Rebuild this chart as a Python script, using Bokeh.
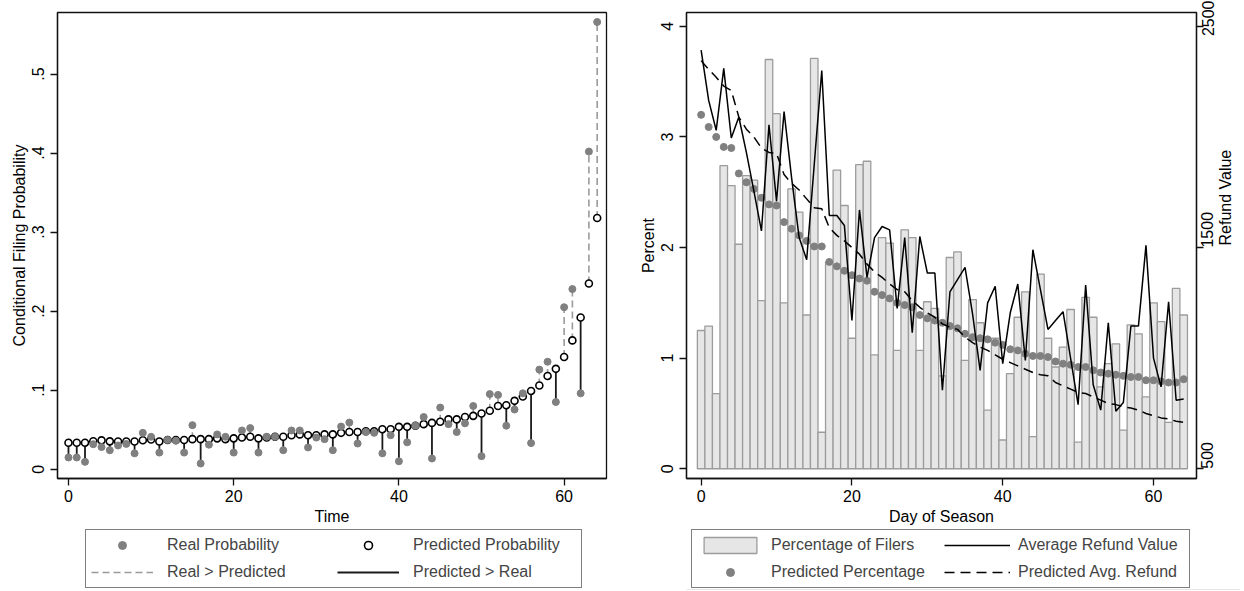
import math
from bokeh.plotting import figure
from bokeh.models import (ColumnDataSource, Range1d, LinearAxis, FixedTicker,
                          Legend, LegendItem)
from bokeh.layouts import row, column
from bokeh.embed import file_html
from bokeh.resources import INLINE

# ---------------- data: left panel ----------------
time = list(range(65))
real_prob = [0.0148, 0.0148, 0.0093, 0.0316, 0.028, 0.024, 0.030, 0.032, 0.020, 0.046,
             0.041, 0.021, 0.037, 0.036, 0.021, 0.0557, 0.0072, 0.031, 0.044, 0.041,
             0.021, 0.049, 0.052, 0.021, 0.041, 0.041, 0.024, 0.049, 0.049, 0.0275,
             0.040, 0.038, 0.024, 0.054, 0.059, 0.0325, 0.047, 0.046, 0.020, 0.043,
             0.010, 0.034, 0.055, 0.066, 0.0135, 0.078, 0.057, 0.047, 0.058, 0.080,
             0.0165, 0.095, 0.094, 0.055, 0.0755, 0.096, 0.033, 0.126, 0.136, 0.085,
             0.205, 0.228, 0.096, 0.402, 0.566]
pred_prob = [0.0334, 0.0335, 0.0335, 0.0354, 0.0365, 0.0352, 0.035, 0.035, 0.035, 0.0367,
             0.0375, 0.035, 0.037, 0.037, 0.037, 0.038, 0.038, 0.038, 0.039, 0.038,
             0.039, 0.040, 0.041, 0.039, 0.040, 0.041, 0.041, 0.043, 0.044, 0.043,
             0.043, 0.044, 0.044, 0.046, 0.047, 0.047, 0.048, 0.048, 0.0506, 0.0506,
             0.0536, 0.0536, 0.055, 0.057, 0.0586, 0.060, 0.063, 0.063, 0.066, 0.0675,
             0.0705, 0.074, 0.080, 0.081, 0.0865, 0.092, 0.099, 0.106, 0.118, 0.127,
             0.142, 0.163, 0.192, 0.235, 0.318]
prob_ticks = [0, 0.1, 0.2, 0.3, 0.4, 0.5]
prob_tick_labels = ["0", ".1", ".2", ".3", ".4", ".5"]
time_ticks = [0, 20, 40, 60]

# ---------------- data: right panel ----------------
day = list(range(65))
pct_filers = [1.25, 1.29, 0.68, 2.74, 2.56, 2.03, 2.65, 2.61, 1.52, 3.70,
              3.21, 1.50, 2.53, 2.32, 1.39, 3.71, 0.33, 1.87, 2.70, 2.38,
              1.18, 2.75, 2.78, 1.03, 2.09, 2.04, 1.07, 2.16, 2.09, 1.07,
              1.51, 1.45, 0.84, 1.91, 1.96, 0.98, 1.53, 1.32, 0.53, 1.18,
              0.26, 0.86, 1.37, 1.60, 0.29, 1.76, 1.18, 0.92, 1.10, 1.44,
              0.24, 1.55, 1.37, 0.74, 0.95, 1.13, 0.35, 1.30, 1.22, 0.65,
              1.50, 1.33, 0.42, 1.63, 1.39]
pred_pct = [3.20, 3.09, 3.00, 2.91, 2.90, 2.67, 2.59, 2.53, 2.45, 2.39,
            2.38, 2.23, 2.17, 2.11, 2.06, 2.01, 2.01, 1.87, 1.83, 1.79,
            1.75, 1.72, 1.70, 1.60, 1.57, 1.54, 1.50, 1.48, 1.46, 1.39,
            1.36, 1.34, 1.32, 1.29, 1.27, 1.22, 1.19, 1.18, 1.17, 1.14,
            1.12, 1.08, 1.07, 1.04, 1.02, 1.02, 1.01, 0.97, 0.95, 0.94,
            0.92, 0.92, 0.89, 0.87, 0.86, 0.85, 0.84, 0.83, 0.83, 0.80,
            0.80, 0.79, 0.78, 0.78, 0.81]
avg_refund = [2392, 2165, 2030, 2310, 1995, 2090, 1930, 1755, 1575, 2055,
              1710, 2115, 1815, 1545, 1445, 1875, 2300, 1645, 1645, 1600,
              1170, 1670, 1365, 1545, 1595, 1580, 1225, 1545, 1115, 1550,
              1385, 1385, 855, 1300, 1355, 1410, 1200, 945, 1250, 1325,
              975, 1205, 1335, 990, 1490, 1310, 1130, 1170, 1210, 1000,
              790, 1330, 880, 765, 1160, 760, 800, 1145, 1145, 1510,
              1000, 870, 1255, 810, 815]
pred_refund = [2345, 2305, 2270, 2230, 2210, 2090, 2035, 2000, 1950, 1930,
               1925, 1830, 1790, 1760, 1720, 1680, 1675, 1590, 1555, 1530,
               1500, 1470, 1425, 1390, 1365, 1335, 1310, 1300, 1260, 1230,
               1205, 1185, 1155, 1140, 1130, 1095, 1070, 1050, 1035, 1015,
               995, 980, 965, 950, 935, 925, 920, 890, 875, 860,
               845, 840, 825, 810, 795, 790, 780, 775, 765, 750,
               740, 730, 725, 715, 710]
pct_ticks = [0, 1, 2, 3, 4]
refund_ticks = [500, 1500, 2500]
day_ticks = [0, 20, 40, 60]

FONT = "Liberation Sans"
FS = "16px"
DOT = "#808080"

# styles shared by plot and legend proxies
UP_STYLE = dict(line_color="#9a9a9a", line_width=1.6, line_dash="7 4")
DN_STYLE = dict(line_color="#1a1a1a", line_width=1.8)
PRED_STYLE = dict(size=7, marker="circle", fill_color="white", line_color="black", line_width=1.6)
REAL_STYLE = dict(size=7, marker="circle", fill_color=DOT, line_color=DOT)
BAR_STYLE = dict(width=1.0, fill_color="#e6e6e6", line_color="#9c9c9c", line_width=1.3)
PP_STYLE = dict(size=7, marker="circle", fill_color=DOT, line_color=DOT)
REF_STYLE = dict(line_color="black", line_width=1.5)
PREF_STYLE = dict(line_color="black", line_width=1.5, line_dash="10 6")


def style_axes(p):
    p.outline_line_color = "#111111"
    p.outline_line_width = 1.3
    p.grid.visible = False
    p.background_fill_color = "white"
    p.border_fill_color = "white"
    for ax in p.axis:
        ax.axis_line_color = "#111111"
        ax.axis_line_width = 1.3
        ax.major_tick_line_color = "#111111"
        ax.major_tick_line_width = 1.3
        ax.major_tick_in = 0
        ax.major_tick_out = 7
        ax.minor_tick_line_color = None
        ax.major_label_text_font = FONT
        ax.major_label_text_font_size = FS
        ax.major_label_text_color = "black"
        ax.axis_label_text_font = FONT
        ax.axis_label_text_font_size = FS
        ax.axis_label_text_font_style = "normal"
        ax.axis_label_text_color = "black"
        ax.major_label_standoff = 4
        ax.axis_label_standoff = 3


def legend_figure(w):
    lf = figure(frame_width=w, frame_height=62, x_range=Range1d(0, 1),
                y_range=Range1d(100000, 100001), output_backend="svg",
                toolbar_location=None, x_axis_location=None, y_axis_location=None,
                min_border=0)
    lf.outline_line_color = None
    lf.grid.visible = False
    return lf


def make_legend(items, loc, gw, lw, ls):
    return Legend(items=items, orientation="horizontal", ncols=2, location=loc,
                  glyph_width=gw, glyph_height=20, label_width=lw, label_height=20,
                  label_standoff=ls, spacing=7, padding=5, margin=0,
                  label_text_font=FONT, label_text_font_size=FS,
                  border_line_color="black", border_line_width=1.2,
                  background_fill_color="white", background_fill_alpha=1.0)


# ---------------- left panel ----------------
up_x, up_lo, up_hi = [], [], []
dn_x, dn_lo, dn_hi = [], [], []
for t, r, q in zip(time, real_prob, pred_prob):
    if r > q:
        up_x.append(t); up_lo.append(q); up_hi.append(r)
    else:
        dn_x.append(t); dn_lo.append(q); dn_hi.append(r)

src_l = ColumnDataSource(dict(t=time, real=real_prob, pred=pred_prob))
src_up = ColumnDataSource(dict(t=up_x, lo=up_lo, hi=up_hi))
src_dn = ColumnDataSource(dict(t=dn_x, lo=dn_lo, hi=dn_hi))

p1 = figure(frame_width=549, frame_height=466,
            x_range=Range1d(-1.33, 65.13), y_range=Range1d(-0.0118, 0.578),
            output_backend="svg", toolbar_location=None,
            min_border_left=57, min_border_right=22, min_border_top=12,
            min_border_bottom=50)
p1.segment(x0="t", y0="lo", x1="t", y1="hi", source=src_up, **UP_STYLE)
p1.segment(x0="t", y0="lo", x1="t", y1="hi", source=src_dn, **DN_STYLE)
p1.scatter(x="t", y="pred", source=src_l, **PRED_STYLE)
p1.scatter(x="t", y="real", source=src_l, **REAL_STYLE)
p1.xaxis.axis_label = "Time"
p1.yaxis.axis_label = "Conditional Filing Probability"
p1.xaxis.ticker = FixedTicker(ticks=time_ticks)
p1.yaxis.ticker = FixedTicker(ticks=prob_ticks)
p1.yaxis.major_label_overrides = {k: v for k, v in zip(prob_ticks, prob_tick_labels)}
style_axes(p1)
p1.yaxis.major_label_orientation = "vertical"
p1.yaxis.major_label_standoff = 6
p1.yaxis.axis_label_standoff = 2

# legend panel under the left chart (proxies reuse the data, out of view)
lf1 = legend_figure(628)
g_up = lf1.segment(x0="t", y0="lo", x1="t", y1="hi", source=src_up, **UP_STYLE)
g_dn = lf1.segment(x0="t", y0="lo", x1="t", y1="hi", source=src_dn, **DN_STYLE)
g_pred = lf1.scatter(x="t", y="pred", source=src_l, **PRED_STYLE)
g_real = lf1.scatter(x="t", y="real", source=src_l, **REAL_STYLE)
lf1.add_layout(make_legend([
    LegendItem(label="Real Probability", renderers=[g_real]),
    LegendItem(label="Predicted Probability", renderers=[g_pred]),
    LegendItem(label="Real > Predicted", renderers=[g_up]),
    LegendItem(label="Predicted > Real", renderers=[g_dn]),
], (85, 2), 62, 163, 14), "center")

# ---------------- right panel ----------------
src_r = ColumnDataSource(dict(d=day, pct=pct_filers, ppct=pred_pct,
                              refund=avg_refund, prefund=pred_refund))
p2 = figure(frame_width=510, frame_height=466,
            x_range=Range1d(-1.94, 65.7), y_range=Range1d(-0.088, 4.125),
            output_backend="svg", toolbar_location=None,
            min_border_left=58, min_border_right=44, min_border_top=12,
            min_border_bottom=50)
p2.extra_y_ranges = {"refund": Range1d(500 + 500 * -0.088, 500 + 500 * 4.125)}
p2.vbar(x="d", top="pct", bottom=0, source=src_r, **BAR_STYLE)
p2.scatter(x="d", y="ppct", source=src_r, **PP_STYLE)
p2.line(x="d", y="refund", source=src_r, y_range_name="refund", **REF_STYLE)
p2.line(x="d", y="prefund", source=src_r, y_range_name="refund", **PREF_STYLE)
ax_r = LinearAxis(y_range_name="refund", ticker=FixedTicker(ticks=refund_ticks),
                  axis_label="Refund Value")
p2.add_layout(ax_r, "right")
p2.xaxis.axis_label = "Day of Season"
p2.xaxis.ticker = FixedTicker(ticks=day_ticks)
p2.yaxis[0].axis_label = "Percent"
p2.yaxis[0].ticker = FixedTicker(ticks=pct_ticks)
style_axes(p2)
p2.yaxis[0].major_label_orientation = "vertical"
p2.yaxis[0].major_label_standoff = 6
p2.yaxis[0].axis_label_standoff = 2
ax_r.major_label_orientation = math.pi / 2
if "axis_label_orientation" in ax_r.properties():
    ax_r.axis_label_orientation = math.pi / 2

lf2 = legend_figure(612)
g_bar = lf2.vbar(x="d", top="pct", bottom=0, source=src_r, **BAR_STYLE)
g_pp = lf2.scatter(x="d", y="ppct", source=src_r, **PP_STYLE)
g_ref = lf2.line(x="d", y="refund", source=src_r, **REF_STYLE)
g_pref = lf2.line(x="d", y="prefund", source=src_r, **PREF_STYLE)
lf2.add_layout(make_legend([
    LegendItem(label="Percentage of Filers", renderers=[g_bar]),
    LegendItem(label="Average Refund Value", renderers=[g_ref]),
    LegendItem(label="Predicted Percentage", renderers=[g_pp]),
    LegendItem(label="Predicted Avg. Refund", renderers=[g_pref]),
], (63, 2), 66, 166, 8), "center")

layout = row(column(p1, lf1), column(p2, lf2))
open("out.html", "w").write(file_html(layout, INLINE))
